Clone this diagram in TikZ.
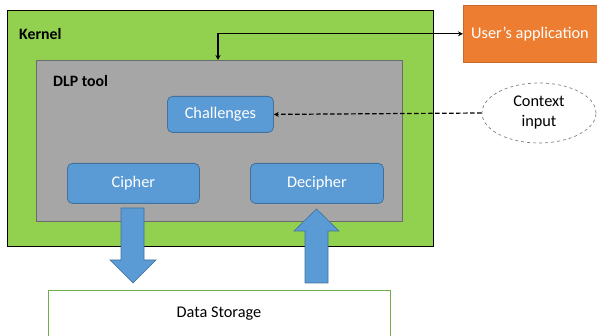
\documentclass[tikz,border=0pt]{standalone}
\usepackage{fontspec}
\setmainfont{Carlito}
\usetikzlibrary{shapes.geometric,arrows.meta}
\definecolor{kgreen}{HTML}{92D050}
\definecolor{dgray}{HTML}{A6A6A6}
\definecolor{bblue}{HTML}{5B9BD5}
\definecolor{bborder}{HTML}{41719C}
\definecolor{aorange}{HTML}{ED7D31}
\definecolor{sgreen}{HTML}{70AD47}
\begin{document}
\begin{tikzpicture}[x=1pt,y=-1pt,
  area/.style={anchor=north west,inner sep=0pt},
  txt/.style={font=\fontsize{16.3}{19}\selectfont},
  bluebox/.style={area,txt,draw=bborder,fill=bblue,rounded corners=5pt,line width=0.8pt,text=white},
  blockarrow/.style={fill=bblue,draw=bborder,line width=0.6pt},
  lbl/.style={anchor=west,font=\fontsize{15.8}{18}\selectfont\bfseries,inner sep=0pt}]
\useasboundingbox (0,0) rectangle (597,336);
% outer kernel and inner DLP tool areas
\node[area,draw=black,fill=kgreen,line width=0.8pt,minimum width=426pt,minimum height=236pt] (kernel) at (7,10) {};
\node[lbl] (klbl) at (19,34) {Kernel};
\node[area,draw=gray!85!black,fill=dgray,line width=0.6pt,minimum width=366pt,minimum height=161pt] (dlp) at (36,60) {};
\node[lbl] (dlbl) at (53,81) {DLP tool};
% components inside the tool
\node[bluebox,minimum width=106pt,minimum height=36pt] (chal) at (167,96) {Challenges};
\node[bluebox,minimum width=132pt,minimum height=40pt] (ciph) at (67,163) {Cipher};
\node[bluebox,minimum width=133pt,minimum height=40pt] (deci) at (250,163) {Decipher};
% external parts
\node[area,draw=sgreen,fill=white,line width=0.6pt,minimum width=342pt,minimum height=60pt] (store) at (48,290) {};
\node[txt] (stlbl) at (219,314) {Data Storage};
\node[area,draw=aorange!85!black,fill=aorange,line width=0.6pt,minimum width=140pt,minimum height=57pt] (app) at (463,5) {};
\node[txt,text=white] (applbl) at (530,34) {User’s application};
\node[ellipse,draw=gray,dashed,line width=0.7pt,fill=white,minimum width=114pt,minimum height=60pt,
  align=center,txt,inner sep=0pt] (ctx) at (539,113) {Context\\[1pt]input};
% connectors
\coordinate (dtop) at (218,60);
\draw[line width=1.1pt,{Stealth[length=5pt,width=5pt]}-{Stealth[length=5pt,width=5pt]}] (dtop) |- (app.west);
\draw[line width=1.2pt,dash pattern=on 4.5pt off 2.5pt,-{Stealth[length=5pt,width=5pt]}] (ctx.west) -- (chal.east);
% block arrows to and from storage
\draw[blockarrow] (121,208) -- (144,208) -- (144,260) -- (156,260) -- (133,283) -- (110,260) -- (121,260) -- cycle;
\draw[blockarrow] (305,283) -- (328,283) -- (328,231) -- (339,231) -- (316.5,209) -- (294,231) -- (305,231) -- cycle;
\end{tikzpicture}
\end{document}
